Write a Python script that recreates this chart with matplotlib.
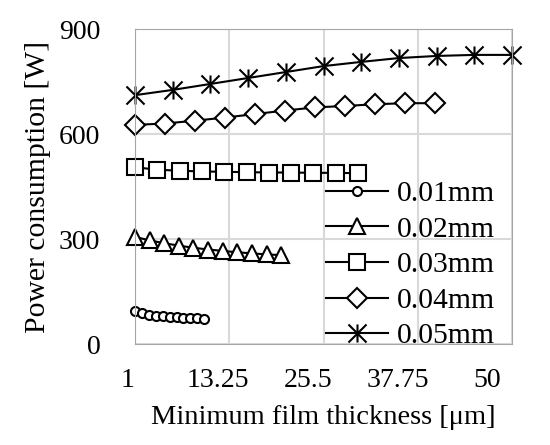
import numpy as np
import matplotlib.pyplot as plt
from matplotlib.path import Path
from matplotlib.transforms import ScaledTranslation

plt.rcParams['font.family'] = ['Liberation Serif', 'DejaVu Serif']

# film thickness values per series [um]
x_001 = [1, 1.9, 2.8, 3.7, 4.6, 5.5, 6.4, 7.3, 8.2, 9.1, 10]
x_002 = [1, 2.9, 4.8, 6.7, 8.6, 10.5, 12.4, 14.3, 16.2, 18.1, 20]
x_003 = [1, 3.9, 6.8, 9.7, 12.6, 15.5, 18.4, 21.3, 24.2, 27.1, 30]
x_004 = [1, 4.9, 8.8, 12.7, 16.6, 20.5, 24.4, 28.3, 32.2, 36.1, 40]
x_005 = [1, 5.9, 10.8, 15.7, 20.6, 25.5, 30.4, 35.3, 40.2, 45.1, 50]

# power consumption [W]
p_001 = [94, 88, 84, 81, 79, 77, 76, 75, 74, 73, 72]
p_002 = [306, 296, 288, 281, 275, 270, 266, 262, 259, 256, 254]
p_003 = [505, 498, 495, 493, 492, 491, 490, 490, 489, 489, 488]
p_004 = [626, 630, 638, 647, 657, 667, 676, 680, 685, 688, 688]
p_005 = [711, 726, 743, 760, 777, 794, 806, 817, 823, 826, 826]

labels = ["0.01mm", "0.02mm", "0.03mm", "0.04mm", "0.05mm"]
xticks = [1, 13.25, 25.5, 37.75, 50]
xticklabels = ["1", "13.25", "25.5", "37.75", "50"]
yticks = [0, 300, 600, 900]

# excel style star: X with a vertical bar
star = Path([(-1, -1), (1, 1), (-1, 1), (1, -1), (0, -1), (0, 1)],
            [Path.MOVETO, Path.LINETO, Path.MOVETO, Path.LINETO, Path.MOVETO, Path.LINETO])

fig = plt.figure(figsize=(5.5, 4.45), dpi=100)
ax = fig.add_axes([135/550, 1-344/445, (512-135)/550, (344-29)/445])

kw = dict(color='black', lw=1.5, mfc='white', mec='black', mew=1.5, clip_on=False)
ax.plot(x_001, p_001, marker='o', ms=6.5, label=labels[0], **kw)
ax.plot(x_002, p_002, marker='^', ms=12, label=labels[1], **kw)
ax.plot(x_003, p_003, marker='s', ms=12, label=labels[2], **kw)
ax.plot(x_004, p_004, marker='D', ms=10, label=labels[3], **kw)
ax.plot(x_005, p_005, marker=star, ms=13, label=labels[4], **kw)

ax.set_xticks(xticks)
ax.set_xticklabels(xticklabels)
ax.set_yticks(yticks)
ax.set_xlim(1, 50)
ax.set_ylim(0, 900)
ax.tick_params(axis='x', length=0, labelsize=20, pad=17)
ax.tick_params(axis='y', length=0, labelsize=20, pad=25)
ax.grid(True, color='#d9d9d9', lw=1.5)
ax.set_axisbelow(True)
for s in ax.spines.values():
    s.set_color('#a6a6a6')

# in the original the x labels sit a little left of their gridlines
shifts = [-7, -11, -15, -20, -25]
for lab, dx in zip(ax.get_xticklabels(), shifts):
    lab.set_transform(lab.get_transform() + ScaledTranslation(dx/100, 0, fig.dpi_scale_trans))

ax.set_xlabel("Minimum film thickness [\u03bcm]", fontsize=20.5, labelpad=9)
ax.set_ylabel("Power consumption [W]", fontsize=21.3, labelpad=6)

leg = ax.legend(loc='lower right', bbox_to_anchor=(0.987, -0.055), frameon=False,
                fontsize=21.3, handlelength=2.1, labelspacing=0.3,
                handletextpad=0.3, borderaxespad=0)

fig.savefig("out.png", dpi=100)
